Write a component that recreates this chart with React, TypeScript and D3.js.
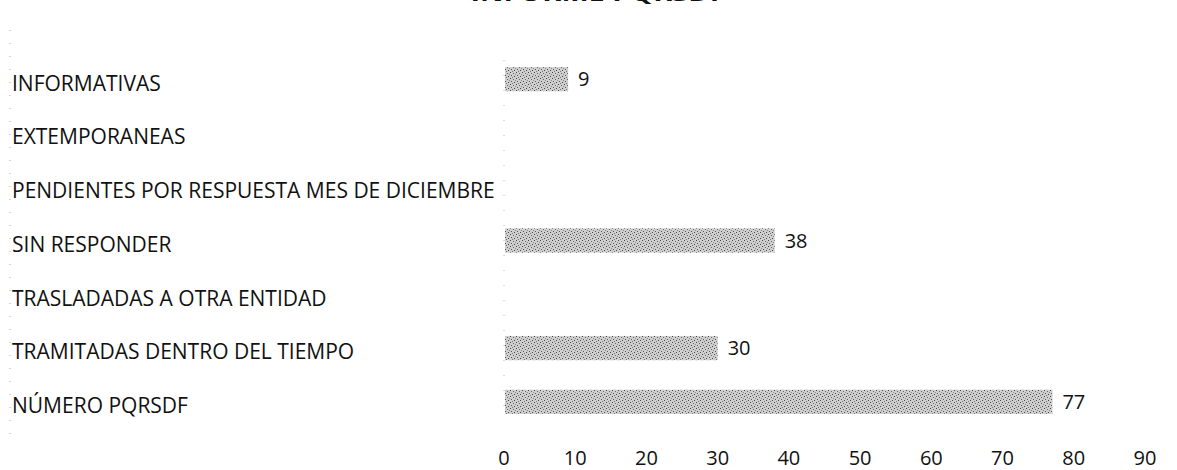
import React from "react";
import * as d3 from "d3";

const categories = [
  "INFORMATIVAS",
  "EXTEMPORANEAS",
  "PENDIENTES POR RESPUESTA MES DE DICIEMBRE",
  "SIN RESPONDER",
  "TRASLADADAS A OTRA ENTIDAD",
  "TRAMITADAS DENTRO DEL TIEMPO",
  "NÚMERO PQRSDF",
];
const values: (number | null)[] = [9, null, null, 38, null, 30, 77];
const ticks = [0, 10, 20, 30, 40, 50, 60, 70, 80, 90];
const title = "INFORME PQRSDF";

export default function App() {
  const W = 1177;
  const H = 470;
  const x = d3.scaleLinear().domain([0, 90]).range([504, 1145]);
  const y = d3
    .scaleBand<string>()
    .domain(categories)
    .range([52, 429])
    .paddingInner(0.55)
    .paddingOuter(0.28);
  const font = "'Open Sans', sans-serif";
  const fs = 21;
  return (
    <svg
      width={W}
      height={H}
      style={{ position: "absolute", left: 0, top: 0, background: "#fff" }}
      fontFamily={font}
    >
      <defs>
        <pattern id="stip" width="6" height="6" patternUnits="userSpaceOnUse">
          <rect width="6" height="6" fill="#cfcfcf" />
          <rect x="0" y="0" width="1" height="1" fill="#444" />
          <rect x="3" y="1" width="1" height="1" fill="#666" />
          <rect x="1" y="3" width="1" height="1" fill="#555" />
          <rect x="4" y="4" width="1" height="1" fill="#444" />
          <rect x="5" y="2" width="1" height="1" fill="#888" />
          <rect x="2" y="5" width="1" height="1" fill="#777" />
        </pattern>
      </defs>
      <text
        x={598}
        y={1}
        textAnchor="middle"
        fontWeight="bold"
        fontSize={20}
        textLength={255}
        lengthAdjust="spacingAndGlyphs"
        fill="#111"
      >
        {title}
      </text>
      <line x1={10} x2={10} y1={30} y2={440} stroke="#aaa" strokeDasharray="1 12" />
      <line x1={x(0)} x2={x(0)} y1={60} y2={420} stroke="#bbb" strokeDasharray="1 14" />
      {categories.map((c, i) => {
        const yc = (y(c) as number) + y.bandwidth() / 2;
        const v = values[i];
        return (
          <g key={c}>
            <text x={12} y={yc + 4} dy="0.35em" fontSize={fs} fill="#111">
              {c}
            </text>
            {v != null && (
              <>
                <rect
                  x={x(0) + 1}
                  y={y(c) as number}
                  width={x(v) - x(0) - 1}
                  height={y.bandwidth()}
                  fill="url(#stip)"
                />
                <text x={x(v) + 10} y={yc} dy="0.35em" fontSize={20} fill="#111">
                  {v}
                </text>
              </>
            )}
          </g>
        );
      })}
      {ticks.map((t) => (
        <text key={t} x={x(t)} y={458} dy="0.35em" textAnchor="middle" fontSize={20} fill="#111">
          {t}
        </text>
      ))}
    </svg>
  );
}
